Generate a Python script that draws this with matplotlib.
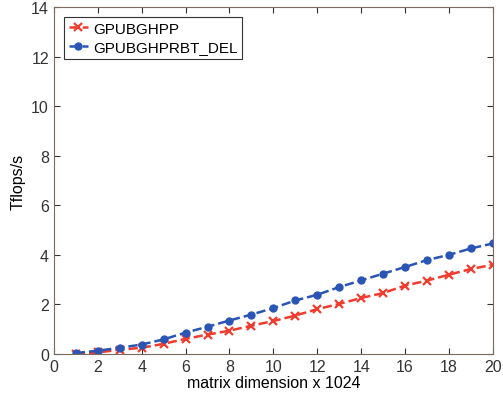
import matplotlib
matplotlib.use("Agg")
import matplotlib.pyplot as plt

plt.rcParams['font.family'] = ['Liberation Sans', 'DejaVu Sans']

n = list(range(1, 21))
gpubghpp = [0.0, 0.06, 0.17, 0.25, 0.41, 0.61, 0.78, 0.94, 1.14, 1.33,
            1.55, 1.81, 2.02, 2.26, 2.46, 2.76, 2.96, 3.2, 3.43, 3.6]
gpubghprbt_del = [0.04, 0.13, 0.25, 0.38, 0.59, 0.86, 1.1, 1.35, 1.59, 1.85,
                  2.16, 2.39, 2.7, 2.97, 3.24, 3.51, 3.79, 4.0, 4.26, 4.46]

fig = plt.figure(figsize=(5.03, 4.02), dpi=100)
ax = fig.add_axes([0.107, 0.117, 0.873, 0.863])

ax.plot(n, gpubghpp, color='#f03c2e', linestyle='--', linewidth=1.8,
        marker='x', markersize=6, markeredgewidth=1.6, label='GPUBGHPP')
ax.plot(n, gpubghprbt_del, color='#2a55b5', linestyle='--', linewidth=1.8,
        marker='o', markersize=5, label='GPUBGHPRBT_DEL')

ax.set_xlim(0, 20)
ax.set_ylim(0, 14)
ax.set_xticks(range(0, 21, 2))
ax.set_yticks(range(0, 15, 2))
ax.tick_params(direction='in', top=True, right=True, labelsize=11.5, length=4, colors='#333333')
for s in ax.spines.values():
    s.set_color('#7a6a60')
    s.set_linewidth(0.8)

ax.set_xlabel('matrix dimension x 1024', fontsize=11.5, labelpad=1)
ax.set_ylabel('Tflops/s', fontsize=11.5, labelpad=4)

leg = ax.legend(loc='upper left', fontsize=11, fancybox=False, framealpha=1,
                edgecolor='#333333', handlelength=1.3, handletextpad=0.3,
                borderpad=0.3, borderaxespad=0, labelspacing=0.3,
                bbox_to_anchor=(0.023, 0.971))
leg.get_frame().set_linewidth(0.8)

fig.savefig('out.png', dpi=100)
